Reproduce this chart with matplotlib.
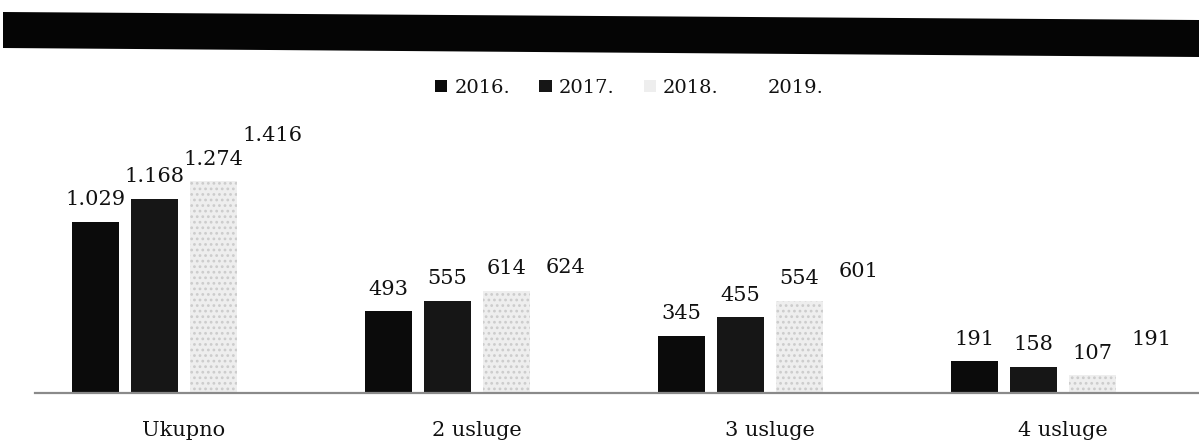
import matplotlib
matplotlib.use("Agg")
import matplotlib.pyplot as plt
import numpy as np
from matplotlib.patches import Patch, Polygon

# Data
categories = ["Ukupno", "2 usluge", "3 usluge", "4 usluge"]
years = ["2016.", "2017.", "2018.", "2019."]
v2016 = [1029, 493, 345, 191]
v2017 = [1168, 555, 455, 158]
v2018 = [1274, 614, 554, 107]
v2019 = [1416, 624, 601, 191]
series = [v2016, v2017, v2018, v2019]

colors = ["#0b0b0b", "#161616", "#eeeeee", "#ffffff"]
hatches = [None, None, "...", None]
hatch_cols = ["none", "none", "#cccccc", "none"]

W, H = 1199, 445
fig = plt.figure(figsize=(W / 100, H / 100), dpi=100)
fig.patch.set_facecolor("white")
plt.rcParams["hatch.linewidth"] = 1.2

# Dark header band across the top
band = Polygon([(3 / W, 1 - 12 / H), (1.0, 1 - 20 / H), (1.0, 1 - 57 / H), (3 / W, 1 - 48 / H)],
               closed=True, transform=fig.transFigure, facecolor="#050505", edgecolor="none")
fig.patches.append(band)

ax = fig.add_axes([35 / W, 52 / H, 1 - 35 / W, 266 / H])
x = np.arange(len(categories))
pitch = 0.2014
width = 0.1604
offsets = (np.arange(4) - 1.5) * pitch

def fmt(v):
    return f"{v:,}".replace(",", ".")

serif = "DejaVu Serif"
txt = "#111111"
for i, (vals, col) in enumerate(zip(series, colors)):
    bars = ax.bar(x + offsets[i], vals, width, color=col, edgecolor=hatch_cols[i],
                  linewidth=0, hatch=hatches[i], zorder=2)
    ax.bar_label(bars, labels=[fmt(v) for v in vals], padding=9,
                 fontsize=15, family=serif, color=txt)

ax.set_xlim(-0.508, 3.464)
ax.set_ylim(0, 1600)
ax.set_yticks([])
ax.set_xticks(x)
ax.set_xticklabels(categories, fontsize=15, family=serif, color=txt)
ax.tick_params(axis="x", length=0, pad=20)
for s in ["top", "right", "left"]:
    ax.spines[s].set_visible(False)
ax.spines["bottom"].set_color("#8a8a8a")
ax.spines["bottom"].set_linewidth(1.6)
ax.set_facecolor("none")

handles = [Patch(facecolor=c, edgecolor="none") for c in colors]
fig.legend(handles, years, loc="center", bbox_to_anchor=(629 / W, 1 - 88 / H), ncol=4,
           frameon=False, prop={"family": serif, "size": 14},
           handlelength=0.65, handleheight=0.6, handletextpad=0.35, columnspacing=1.5,
           labelcolor=txt)

fig.savefig("out.png", dpi=100, facecolor="white")
